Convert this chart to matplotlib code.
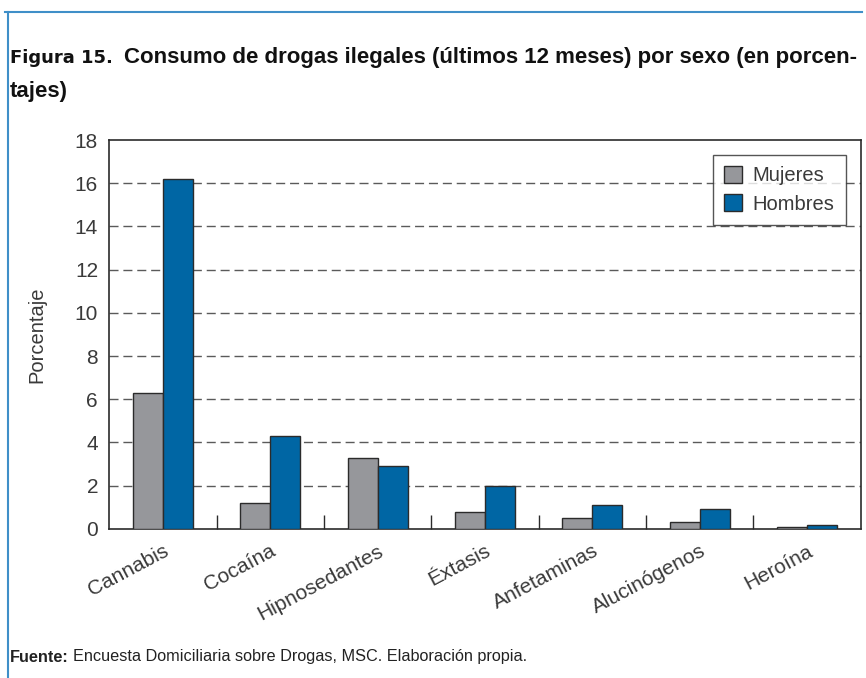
import matplotlib
matplotlib.use("Agg")
import matplotlib.pyplot as plt
import numpy as np
from matplotlib.lines import Line2D

categories = ["Cannabis", "Cocaína", "Hipnosedantes", "Éxtasis", "Anfetaminas", "Alucinógenos", "Heroína"]
mujeres = [6.3, 1.2, 3.3, 0.8, 0.5, 0.3, 0.1]
hombres = [16.2, 4.3, 2.9, 2.0, 1.1, 0.9, 0.2]
yticks = [0, 2, 4, 6, 8, 10, 12, 14, 16, 18]

plt.rcParams['font.family'] = ['Liberation Sans', 'DejaVu Sans']

fig = plt.figure(figsize=(8.66, 6.78), dpi=100)
ax = fig.add_axes([0.126, 0.220, 0.868, 0.5735])

x = np.arange(len(categories))
w = 0.28
ax.bar(x - w/2, mujeres, w, color="#96979b", edgecolor="#2b2b2b", linewidth=1.0, label="Mujeres", zorder=3)
ax.bar(x + w/2, hombres, w, color="#0066a4", edgecolor="#2b2b2b", linewidth=1.0, label="Hombres", zorder=3)

ax.set_xlim(-0.5, len(categories) - 0.5)
ax.set_ylim(0, 18)
ax.set_yticks(yticks)
ax.set_yticklabels([str(t) for t in yticks], fontsize=15, color="#3a3a3a")
ax.tick_params(axis='y', length=0, pad=8)
for t in yticks[1:-1]:
    ax.axhline(t, color="#5a5a5a", linewidth=1.0, linestyle=(0, (6.5, 3.5)), zorder=1)

ax.set_xticks(x)
ax.set_xticklabels(categories, rotation=28, ha="right", rotation_mode="anchor", fontsize=15, color="#3a3a3a")
ax.tick_params(axis='x', length=0, pad=9)
ax.set_xticks(np.arange(0.5, len(categories) - 0.5, 1), minor=True)
ax.tick_params(axis='x', which='minor', direction='in', length=10, width=1.0, color="#2b2b2b")

for s in ax.spines.values():
    s.set_color("#2b2b2b")
    s.set_linewidth(1.2)

ax.set_ylabel("Porcentaje", fontsize=14.5, color="#3a3a3a", labelpad=20)

leg = ax.legend(loc="upper right", bbox_to_anchor=(0.980, 0.962), borderaxespad=0, fontsize=14.5, frameon=True,
                fancybox=False, edgecolor="#2b2b2b", handlelength=0.9, handleheight=0.9, borderpad=0.55,
                labelspacing=0.45, handletextpad=0.55)
leg.get_frame().set_linewidth(1.0)
leg.set_zorder(5)
for t in leg.get_texts():
    t.set_color("#3a3a3a")

# frame lines (top and left, blue)
fig.add_artist(Line2D([5/866, 862/866], [1 - 12/678, 1 - 12/678], color="#3f8fc8", linewidth=1.5))
fig.add_artist(Line2D([8/866, 8/866], [1 - 12/678, 0], color="#3f8fc8", linewidth=1.5))

# title
t1 = fig.text(10/866, 1 - 58/678, "Figura 15.", fontsize=13, fontweight="bold", va="center", ha="left",
              color="#111111", family=["DejaVu Sans"])
fig.canvas.draw()
bb = t1.get_window_extent()
x2 = (bb.x1 + 11) / fig.bbox.width
fig.text(x2, 1 - 58/678, "Consumo de drogas ilegales (últimos 12 meses) por sexo (en porcen-",
         fontsize=16, fontweight="bold", va="center", ha="left", color="#111111")
fig.text(10/866, 1 - 91/678, "tajes)", fontsize=16, fontweight="bold", va="center", ha="left", color="#111111")

# source
s1 = fig.text(10/866, 1 - 657/678, "Fuente:", fontsize=11.7, fontweight="bold", va="center", ha="left", color="#222222")
fig.canvas.draw()
bb = s1.get_window_extent()
fig.text((bb.x1 + 4) / fig.bbox.width, 1 - 657/678, "Encuesta Domiciliaria sobre Drogas, MSC. Elaboración propia.",
         fontsize=11.7, va="center", ha="left", color="#222222")

fig.savefig("out.png", dpi=100)
